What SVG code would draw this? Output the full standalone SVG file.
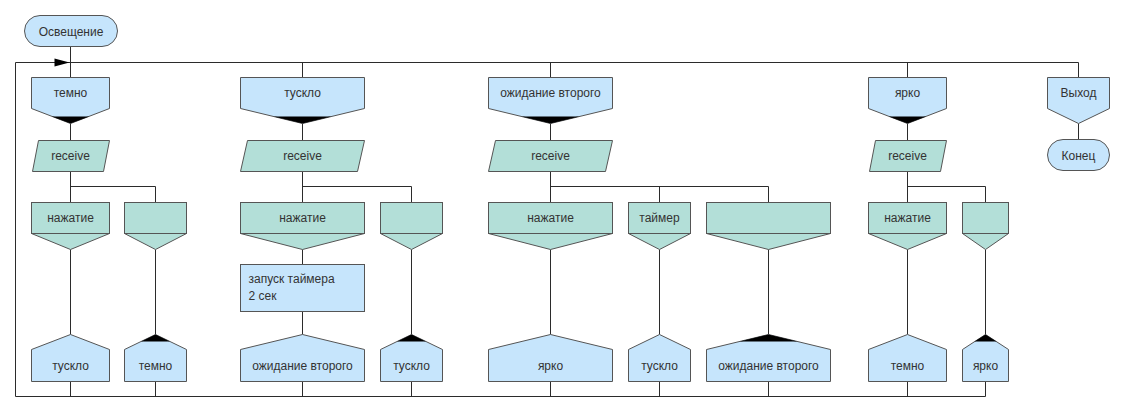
<svg xmlns="http://www.w3.org/2000/svg" width="1124" height="410" viewBox="0 0 1124 410">
<defs>
<style>
.bg{fill:#ffffff}
.ln{stroke:#2b2b2b;stroke-width:1;fill:none}
.bl{fill:#c6e5fc;stroke:#555;stroke-width:1}
.tl{fill:#b3dfd8;stroke:#555;stroke-width:1}
.bk{fill:#000}
text{font-family:"Liberation Sans",Arial,sans-serif;font-size:12px;fill:#333}
.c{text-anchor:middle}
</style>
</defs>
<rect class="bg" x="0" y="0" width="1124" height="410"/>
<g transform="translate(0.5,0.5)">
<g id="connectors">
<path class="ln" d="M70 46V77 M15 62H1078 M15 62V396H985"/>
<path class="ln" d="M302 62V77 M550 62V77 M907 62V77 M1078 62V77 M1078 123V139"/>
<path class="ln" d="M70 123V202 M70 186H155V202 M70 249V334 M155 249V334 M70 381V396 M155 381V396"/>
<path class="ln" d="M302 123V202 M302 186H411V202 M302 249V264 M302 311V334 M411 249V334 M302 381V396 M411 381V396"/>
<path class="ln" d="M550 123V202 M550 186H768V202 M659 186V202 M550 249V334 M659 249V334 M768 249V334 M550 381V396 M659 381V396 M768 381V396"/>
<path class="ln" d="M907 123V202 M907 186H985V202 M907 249V334 M985 249V334 M907 381V396 M985 381V396"/>
<polygon class="bk" points="54,58 69,62 54,66"/>
</g>
<g id="start">
<rect class="bl" x="24" y="15" width="93" height="31" rx="15.5"/>
<text class="c" x="70.5" y="35">Освещение</text>
</g>
<g id="h1">
<polygon class="bl" points="31,77 109,77 109,108 70,123 31,108"/>
<polygon class="bk" points="51.3,116 88.7,116 70,123"/>
<text class="c" x="70" y="96">темно</text>
</g>
<g id="r1">
<polygon class="tl" points="38,140 109,140 103,171 32,171"/>
<text class="c" x="70" y="159">receive</text>
</g>
<g id="c1a">
<rect class="tl" x="31" y="202" width="78" height="31"/>
<polygon class="tl" points="31,233 109,233 70,249"/>
<text class="c" x="70" y="221">нажатие</text>
</g>
<g id="c1b">
<rect class="tl" x="124" y="202" width="62" height="31"/>
<polygon class="tl" points="124,233 186,233 155,249"/>
</g>
<g id="a1a">
<polygon class="bl" points="70,334 109,349 109,381 31,381 31,349"/>
<text class="c" x="70" y="369">тускло</text>
</g>
<g id="a1b">
<polygon class="bl" points="155,334 186,349 186,381 124,381 124,349"/>
<polygon class="bk" points="155,334 169.5,341 140.5,341"/>
<text class="c" x="155" y="369">темно</text>
</g>
<g id="h2">
<polygon class="bl" points="240,77 364,77 364,108 302,123 240,108"/>
<polygon class="bk" points="273,116 331,116 302,123"/>
<text class="c" x="302" y="96">тускло</text>
</g>
<g id="r2">
<polygon class="tl" points="247,140 364,140 357,171 240,171"/>
<text class="c" x="302" y="159">receive</text>
</g>
<g id="c2a">
<rect class="tl" x="240" y="202" width="124" height="31"/>
<polygon class="tl" points="240,233 364,233 302,249"/>
<text class="c" x="302" y="221">нажатие</text>
</g>
<g id="act2">
<rect class="bl" x="240" y="264" width="124" height="47"/>
<text x="248" y="282">запуск таймера</text>
<text x="248" y="299">2 сек</text>
</g>
<g id="a2a">
<polygon class="bl" points="302,334 364,349 364,381 240,381 240,349"/>
<text class="c" x="302" y="369">ожидание второго</text>
</g>
<g id="c2b">
<rect class="tl" x="380" y="202" width="62" height="31"/>
<polygon class="tl" points="380,233 442,233 411,249"/>
</g>
<g id="a2b">
<polygon class="bl" points="411,334 442,349 442,381 380,381 380,349"/>
<polygon class="bk" points="411,334 425.5,341 396.5,341"/>
<text class="c" x="411" y="369">тускло</text>
</g>
<g id="h3">
<polygon class="bl" points="488,77 612,77 612,108 550,123 488,108"/>
<polygon class="bk" points="521,116 579,116 550,123"/>
<text class="c" x="550" y="96">ожидание второго</text>
</g>
<g id="r3">
<polygon class="tl" points="495,140 612,140 605,171 488,171"/>
<text class="c" x="550" y="159">receive</text>
</g>
<g id="c3a">
<rect class="tl" x="488" y="202" width="124" height="31"/>
<polygon class="tl" points="488,233 612,233 550,249"/>
<text class="c" x="550" y="221">нажатие</text>
</g>
<g id="c3b">
<rect class="tl" x="628" y="202" width="62" height="31"/>
<polygon class="tl" points="628,233 690,233 659,249"/>
<text class="c" x="659" y="221">таймер</text>
</g>
<g id="c3c">
<rect class="tl" x="706" y="202" width="124" height="31"/>
<polygon class="tl" points="706,233 830,233 768,249"/>
</g>
<g id="a3a">
<polygon class="bl" points="550,334 612,349 612,381 488,381 488,349"/>
<text class="c" x="550" y="369">ярко</text>
</g>
<g id="a3b">
<polygon class="bl" points="659,334 690,349 690,381 628,381 628,349"/>
<text class="c" x="659" y="369">тускло</text>
</g>
<g id="a3c">
<polygon class="bl" points="768,334 830,349 830,381 706,381 706,349"/>
<polygon class="bk" points="768,334 797,341 739,341"/>
<text class="c" x="768" y="369">ожидание второго</text>
</g>
<g id="h4">
<polygon class="bl" points="868,77 946,77 946,108 907,123 868,108"/>
<polygon class="bk" points="888.3,116 925.7,116 907,123"/>
<text class="c" x="907" y="96">ярко</text>
</g>
<g id="r4">
<polygon class="tl" points="875,140 946,140 940,171 869,171"/>
<text class="c" x="907" y="159">receive</text>
</g>
<g id="c4a">
<rect class="tl" x="868" y="202" width="78" height="31"/>
<polygon class="tl" points="868,233 946,233 907,249"/>
<text class="c" x="907" y="221">нажатие</text>
</g>
<g id="c4b">
<rect class="tl" x="962" y="202" width="46" height="31"/>
<polygon class="tl" points="962,233 1008,233 985,249"/>
</g>
<g id="a4a">
<polygon class="bl" points="907,334 946,349 946,381 868,381 868,349"/>
<text class="c" x="907" y="369">темно</text>
</g>
<g id="a4b">
<polygon class="bl" points="985,334 1008,349 1008,381 962,381 962,349"/>
<polygon class="bk" points="985,334 996,341 974,341"/>
<text class="c" x="985" y="369">ярко</text>
</g>
<g id="exit">
<polygon class="bl" points="1047,77 1109,77 1109,108 1078,123 1047,108"/>
<text class="c" x="1078" y="96">Выход</text>
</g>
<g id="end">
<rect class="bl" x="1047" y="139" width="62" height="31" rx="15.5"/>
<text class="c" x="1078" y="159">Конец</text>
</g>
</g>
</svg>
